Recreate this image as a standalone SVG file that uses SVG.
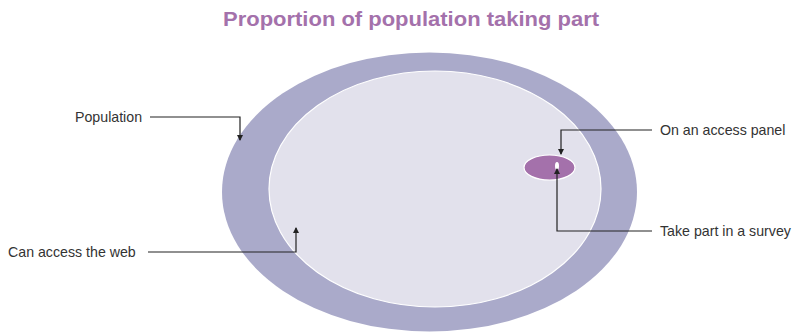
<svg xmlns="http://www.w3.org/2000/svg" width="792" height="332" viewBox="0 0 792 332">
<style>
.lbl{font-family:"Liberation Sans",Arial,sans-serif;font-size:14.2px;fill:#333}
.title{font-family:"Liberation Sans",Arial,sans-serif;font-size:21px;font-weight:bold;fill:#a471ab}
.conn{fill:none;stroke:#222;stroke-width:1.2}
</style>
<defs>
<marker id="arr" viewBox="0 0 6 6" refX="5" refY="3" markerWidth="6" markerHeight="6" orient="auto" markerUnits="userSpaceOnUse">
<path d="M0,0 L6,3 L0,6 z" fill="#222"/>
</marker>
</defs>
<rect width="792" height="332" fill="#fff"/>
<text class="title" x="411" y="26" text-anchor="middle" textLength="376" lengthAdjust="spacingAndGlyphs">Proportion of population taking part</text>
<g id="population">
<ellipse cx="429.5" cy="192" rx="207.5" ry="139.5" fill="#aaaaca"/>
<text class="lbl" x="75" y="122">Population</text>
</g>
<g id="web">
<ellipse cx="435" cy="189" rx="166" ry="118" fill="#e2e1ec" stroke="#fff" stroke-width="1.2"/>
<text class="lbl" x="8" y="257">Can access the web</text>
</g>
<g id="panel">
<ellipse cx="549.5" cy="167.5" rx="25.5" ry="12.5" fill="#a471ab" stroke="#fff" stroke-width="1.2"/>
<text class="lbl" x="660" y="135">On an access panel</text>
</g>
<g id="survey">
<ellipse cx="557" cy="166" rx="2" ry="4" fill="#fff"/>
<text class="lbl" x="660" y="236">Take part in a survey</text>
</g>
<g id="connectors">
<polyline class="conn" points="150,117 240,117 240,140" marker-end="url(#arr)"/>
<polyline class="conn" points="148,252 296,252 296,228" marker-end="url(#arr)"/>
<polyline class="conn" points="652,130 561,130 561,154" marker-end="url(#arr)"/>
<polyline class="conn" points="652,231 557,231 557,169" marker-end="url(#arr)"/>
</g>
</svg>
